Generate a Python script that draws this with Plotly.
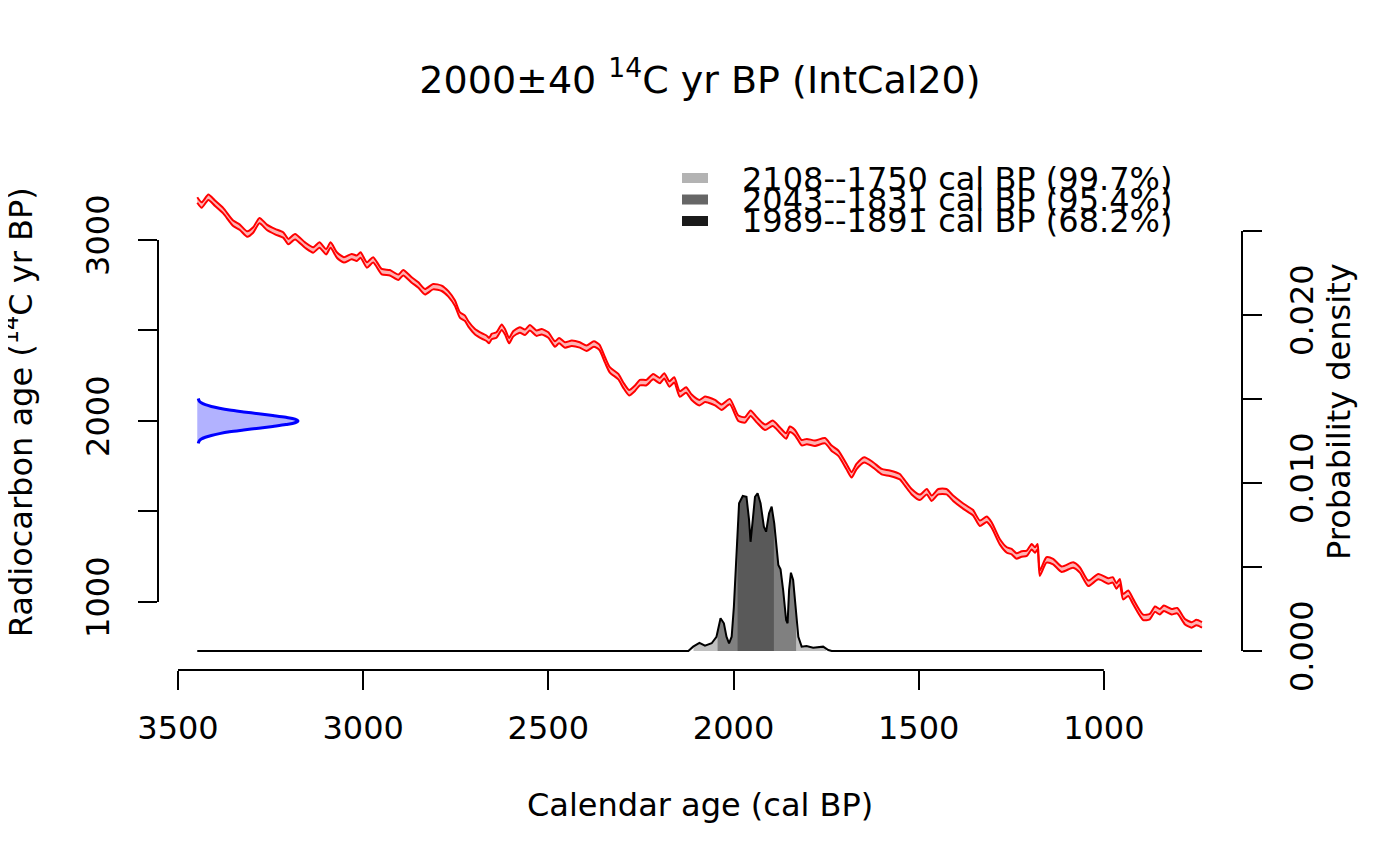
import numpy as np
import plotly.graph_objects as go

# ---------------- data ----------------
# calibration curve (IntCal20)
CAL_BP = [3448, 3436, 3418, 3400, 3378, 3351, 3333, 3313, 3297, 3280,
          3260, 3238, 3216, 3202, 3184, 3157, 3135, 3118, 3100, 3088,
          3071, 3052, 3031, 3017, 3007, 2990, 2973, 2950, 2928, 2905,
          2892, 2869, 2851, 2833, 2811, 2788, 2770, 2752, 2739, 2725,
          2716, 2698, 2680, 2667, 2660, 2653, 2640, 2626, 2617, 2606,
          2595, 2577, 2563, 2550, 2532, 2518, 2500, 2482, 2471, 2455,
          2437, 2415, 2397, 2377, 2362, 2347, 2334, 2311, 2298, 2282,
          2266, 2253, 2235, 2217, 2199, 2187, 2173, 2160, 2145, 2128,
          2113, 2092, 2077, 2068, 2050, 2032, 2010, 1987, 1969, 1954,
          1937, 1915, 1894, 1875, 1858, 1848, 1834, 1816, 1802, 1780,
          1753, 1735, 1717, 1695, 1681, 1668, 1647, 1623, 1600, 1578,
          1551, 1537, 1519, 1497, 1478, 1465, 1447, 1425, 1407, 1384,
          1364, 1353, 1335, 1316, 1303, 1281, 1262, 1249, 1236, 1222,
          1208, 1195, 1186, 1179, 1173, 1155, 1137, 1114, 1083, 1065,
          1042, 1015, 988, 976, 966, 957, 948, 934, 921, 894,
          876, 862, 849, 838, 817, 802, 781, 763, 750, 735]
C14_BP = [3221, 3193, 3236, 3203, 3162, 3092, 3070, 3033, 3055, 3107,
          3070, 3046, 3028, 2991, 3018, 2972, 2945, 2972, 2935, 2972,
          2917, 2890, 2908, 2899, 2917, 2862, 2890, 2825, 2819, 2794,
          2819, 2779, 2751, 2714, 2742, 2733, 2702, 2650, 2586, 2567,
          2536, 2493, 2470, 2457, 2444, 2466, 2475, 2518, 2493, 2444,
          2481, 2503, 2490, 2515, 2485, 2493, 2475, 2425, 2444, 2420,
          2429, 2420, 2402, 2425, 2407, 2337, 2282, 2245, 2199, 2156,
          2181, 2212, 2212, 2245, 2223, 2249, 2204, 2227, 2149, 2171,
          2131, 2101, 2120, 2116, 2101, 2076, 2107, 2015, 2006, 2043,
          2006, 1965, 1987, 1950, 1917, 1954, 1935, 1880, 1886, 1877,
          1891, 1849, 1822, 1748, 1702, 1748, 1785, 1757, 1720, 1711,
          1692, 1656, 1609, 1578, 1609, 1573, 1609, 1609, 1573, 1536,
          1508, 1493, 1435, 1457, 1425, 1333, 1287, 1278, 1254, 1265,
          1269, 1305, 1287, 1305, 1159, 1232, 1223, 1181, 1204, 1177,
          1103, 1140, 1116, 1122, 1088, 1112, 1029, 1048, 1002, 915,
          919, 960, 946, 965, 946, 952, 891, 873, 886, 873]
C14_ERR = 15  # half-width of the curve band (14C yr)

# radiocarbon date
RC_AGE = 2000
RC_SD = 40
BLUE_OFFSET = [-124, -110, -100, -90, -80, -70, -60, -50, -40, -30, -20, -10, 0,
               10, 20, 30, 40, 50, 60, 70, 80, 90, 100, 110, 124]
BLUE_REL = [0.01, 0.02, 0.04, 0.08, 0.14, 0.22, 0.32, 0.46, 0.61, 0.75, 0.88, 0.97, 1.0,
            0.97, 0.88, 0.75, 0.61, 0.46, 0.32, 0.22, 0.14, 0.08, 0.04, 0.02, 0.01]

# calibrated distribution
DENS_CAL = [3448, 2122, 2109, 2092, 2077, 2059, 2046, 2035, 2026, 2019,
            2012, 2005, 1999, 1992, 1985, 1975, 1965, 1958, 1954, 1948,
            1942, 1935, 1927, 1918, 1912, 1904, 1897, 1890, 1884, 1879,
            1873, 1866, 1858, 1854, 1850, 1845, 1839, 1831, 1825, 1816,
            1803, 1785, 1758, 1744, 1735, 735]
DENS = [0, 0, 0.00026, 0.00049, 0.00032, 0.00046, 0.00085, 0.00195, 0.00165, 0.00085,
        0.00046, 0.00085, 0.00264, 0.00621, 0.00879, 0.00923, 0.00918, 0.0078, 0.0065, 0.0078,
        0.00918, 0.00939, 0.00879, 0.0074, 0.0071, 0.0082, 0.00859, 0.0076, 0.00621, 0.00512,
        0.00486, 0.00363, 0.00185, 0.00165, 0.00363, 0.00466, 0.00423, 0.00244, 0.00085, 0.00026,
        0.0003, 0.0002, 0.00026, 0.00006, 0, 0]

# highest posterior density ranges
HPD_FROM = [2108, 2043, 1989]
HPD_TO = [1750, 1831, 1891]
HPD_PROB = [99.7, 95.4, 68.2]

X_TICKS = [3500, 3000, 2500, 2000, 1500, 1000]
Y_TICKS = [1000, 1500, 2000, 2500, 3000]
Y_TICKTEXT = ["1000", "", "2000", "", "3000"]
D_TICKS = [0.0, 0.005, 0.010, 0.015, 0.020, 0.025]
D_TICKTEXT = ["0.000", "", "0.010", "", "0.020", ""]

# ---------------- style ----------------
FONT = "DejaVu Sans"
FILL_COLS = ["rgb(191,191,191)", "rgb(128,128,128)", "rgb(89,89,89)"]
LEG_COLS = ["rgb(179,179,179)", "rgb(102,102,102)", "rgb(26,26,26)"]
BLUE_BASE = 3448      # calendar position of the date's baseline
BLUE_AMP = 272        # calendar-year width of the date's peak
FS = 32
W, H = 1384, 850      # page body has an 8px margin

cal = np.array(CAL_BP, float)
c14 = np.array(C14_BP, float)

fig = go.Figure()

# calibration curve band
fig.add_trace(go.Scatter(x=cal, y=c14 - C14_ERR, mode="lines",
                         line=dict(color="red", width=2, shape="spline", smoothing=0.6),
                         hoverinfo="skip", showlegend=False))
fig.add_trace(go.Scatter(x=cal, y=c14 + C14_ERR, mode="lines",
                         line=dict(color="red", width=2, shape="spline", smoothing=0.6),
                         fill="tonexty", fillcolor="rgba(255,0,0,0.3)", hoverinfo="skip",
                         showlegend=False))

# radiocarbon date (blue)
by = RC_AGE + np.array(BLUE_OFFSET, float) * (RC_SD / 40.0)
bx = BLUE_BASE - np.array(BLUE_REL) * BLUE_AMP
fig.add_trace(go.Scatter(x=np.r_[BLUE_BASE, bx, BLUE_BASE], y=np.r_[by[0], by, by[-1]],
                         mode="lines", line=dict(width=0), fill="toself",
                         fillcolor="rgba(0,0,255,0.3)", hoverinfo="skip",
                         showlegend=False))
fig.add_trace(go.Scatter(x=bx, y=by, mode="lines", line=dict(color="blue", width=3, shape="spline"),
                         hoverinfo="skip", showlegend=False))

# calibrated distribution fills
dc = np.array(DENS_CAL, float)
dd = np.array(DENS, float)
inc_c, inc_d = dc[::-1], dd[::-1]
for lo_hi, col in zip(zip(HPD_TO, HPD_FROM), FILL_COLS):
    lo, hi = lo_hi
    mask = (dc > lo) & (dc < hi)
    xs = np.r_[hi, hi, dc[mask], lo, lo]
    ys = np.r_[0, np.interp(hi, inc_c, inc_d), dd[mask], np.interp(lo, inc_c, inc_d), 0]
    fig.add_trace(go.Scatter(x=xs, y=ys, yaxis="y2", mode="lines", line=dict(width=0),
                             fill="toself", fillcolor=col, hoverinfo="skip",
                             showlegend=False))
fig.add_trace(go.Scatter(x=dc, y=dd, yaxis="y2", mode="lines",
                         line=dict(color="black", width=2), hoverinfo="skip",
                         showlegend=False))

# R-style axis lines spanning the tick range only
shapes = [
    dict(type="line", xref="x", yref="paper", x0=X_TICKS[0], x1=X_TICKS[-1], y0=0, y1=0,
         line=dict(color="black", width=2)),
    dict(type="line", xref="paper", yref="y", x0=0, x1=0, y0=Y_TICKS[0], y1=Y_TICKS[-1],
         line=dict(color="black", width=2)),
    dict(type="line", xref="paper", yref="y2", x0=1, x1=1, y0=D_TICKS[0], y1=D_TICKS[-1],
         line=dict(color="black", width=2)),
]

# legend (boxes + text)
annotations = []
leg_box_y = [(0.9632, 0.9438), (0.9215, 0.9021), (0.8798, 0.8605)]
leg_txt_y = [0.9516, 0.9109, 0.8702]
for i in range(len(HPD_FROM)):
    shapes.append(dict(type="rect", xref="paper", yref="paper", x0=0.4834, x1=0.5074,
                       y0=leg_box_y[i][1], y1=leg_box_y[i][0],
                       fillcolor=LEG_COLS[i], line=dict(width=0)))
    annotations.append(dict(xref="paper", yref="paper", x=0.5370, y=leg_txt_y[i],
                            xanchor="left", yanchor="middle", showarrow=False,
                            text=f"{HPD_FROM[i]}--{HPD_TO[i]} cal BP ({HPD_PROB[i]}%)",
                            font=dict(family=FONT, size=FS, color="black")))

# axis titles
annotations += [
    dict(xref="paper", yref="paper", x=0.5, y=-0.2616, xanchor="center", yanchor="middle",
         showarrow=False, text="Calendar age (cal BP)",
         font=dict(family=FONT, size=FS, color="black")),
    dict(xref="paper", yref="paper", x=-0.1290, y=0.5, xanchor="center", yanchor="middle",
         showarrow=False, textangle=-90, text="Radiocarbon age (<sup>14</sup>C yr BP)",
         font=dict(family=FONT, size=FS, color="black")),
    dict(xref="paper", yref="paper", x=1.0895, y=0.5, xanchor="center", yanchor="middle",
         showarrow=False, textangle=-90, text="Probability density",
         font=dict(family=FONT, size=FS, color="black")),
]

axis_common = dict(showgrid=False, zeroline=False, showline=False, ticks="outside",
                   ticklen=19, tickwidth=2, tickcolor="black",
                   tickfont=dict(family=FONT, size=FS, color="black"))

fig.update_layout(
    width=W, height=H,
    margin=dict(l=150, r=150, t=146, b=188),
    paper_bgcolor="white", plot_bgcolor="white",
    font=dict(family=FONT, color="black"),
    title=dict(text=f"{RC_AGE}±{RC_SD} <sup>14</sup>C yr BP (IntCal20)",
               x=0.5, xref="paper", xanchor="center", y=1 - 72 / H, yanchor="middle",
               font=dict(family=FONT, size=38, color="black")),
    xaxis=dict(range=[3554, 627], tickvals=X_TICKS, ticktext=[str(t) for t in X_TICKS],
               ticklabelstandoff=11, **axis_common),
    yaxis=dict(range=[624, 3475], tickvals=Y_TICKS, ticktext=Y_TICKTEXT, tickangle=-90,
               ticklabelstandoff=16, **axis_common),
    yaxis2=dict(range=[-0.00113, 0.02958], tickvals=D_TICKS, ticktext=D_TICKTEXT,
                overlaying="y", side="right", tickangle=-90, ticklabelstandoff=13,
                **axis_common),
    shapes=shapes, annotations=annotations, showlegend=False,
)

fig.write_html("out.html")
